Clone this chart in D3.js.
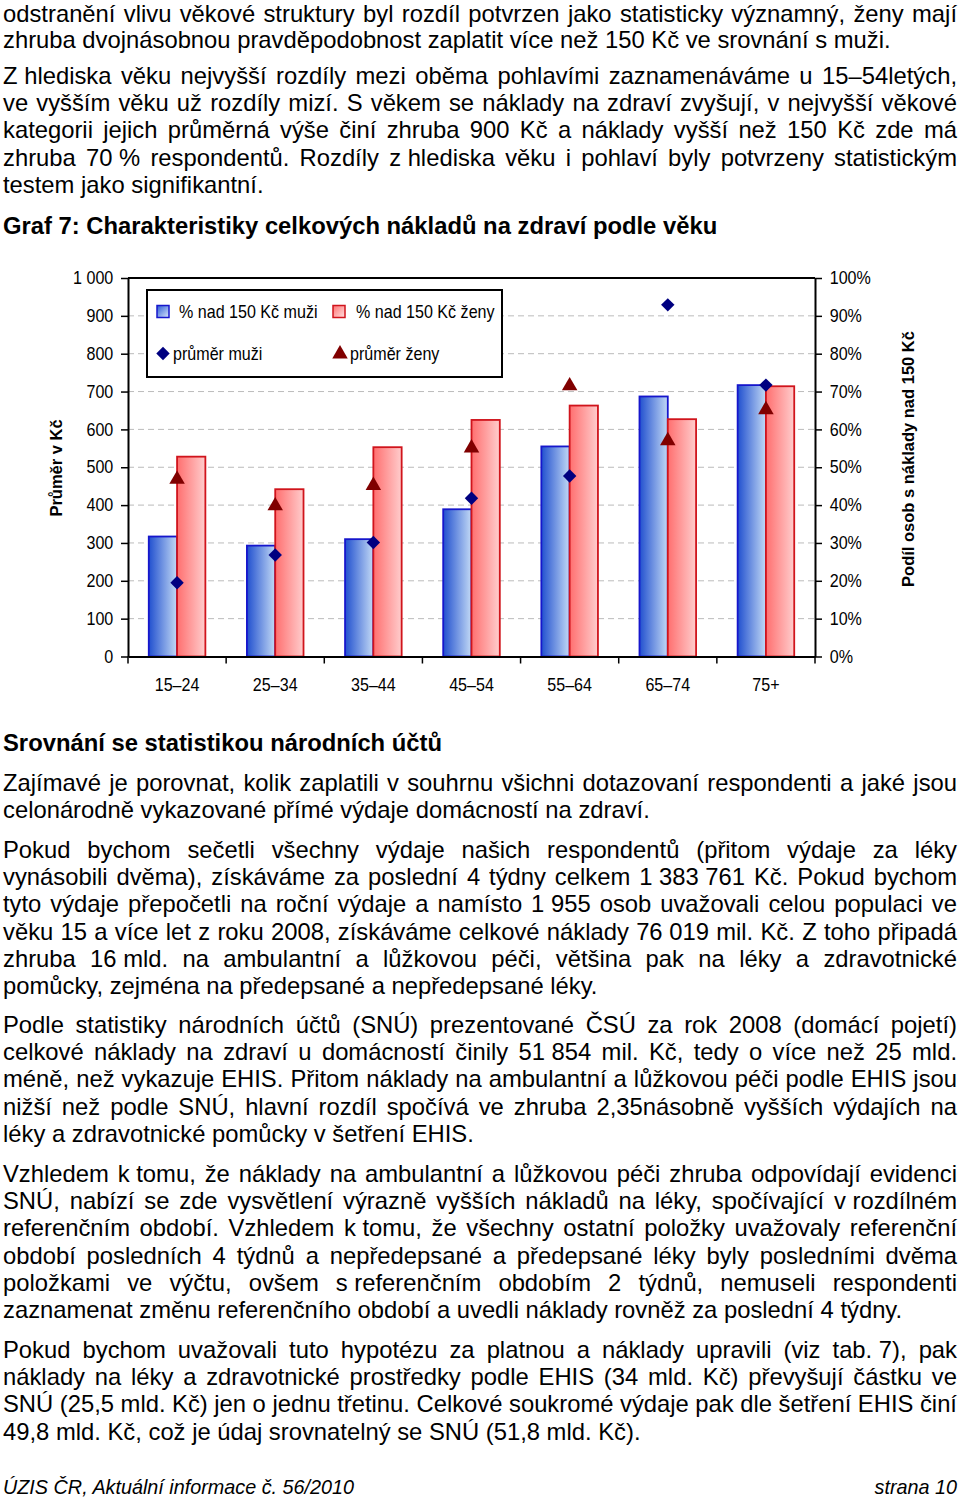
<!DOCTYPE html>
<html><head><meta charset="utf-8">
<script src="https://cdn.jsdelivr.net/npm/d3@7"></script>
<style>
html,body{margin:0;padding:0;background:#fff;}
svg{display:block;}
text{font-family:'Liberation Sans',Arial,Helvetica,sans-serif;fill:#000;}
.body{font-size:23.8px;}
.bold{font-size:23.8px;font-weight:bold;}
.foot{font-size:19.8px;font-style:italic;}
.ch{font-size:17.5px;}
.axt{font-size:16.5px;font-weight:bold;}
</style></head><body>
<svg id="page" width="960" height="1501"></svg>
<script>
// ---------- chart data ----------
const ageGroups = ["15–24","25–34","35–44","45–54","55–64","65–74","75+"];
const pctMen   = [31.7, 29.3, 31.0, 38.9, 55.5, 68.7, 71.7];   // % nad 150 Kč muži
const pctWomen = [52.8, 44.2, 55.3, 62.5, 66.3, 62.7, 71.4];   // % nad 150 Kč ženy
const avgMen   = [195, 268, 301, 418, 477, 929, 717];          // průměr muži (Kč)
const avgWomen = [468, 398, 452, 551, 715, 570, 652];          // průměr ženy (Kč)
const leftTicks  = [0,100,200,300,400,500,600,700,800,900,1000];
const rightTicks = [0,10,20,30,40,50,60,70,80,90,100];
const seriesNames = ["% nad 150 Kč muži","% nad 150 Kč ženy","průměr muži","průměr ženy"];
const chartTitle = "Graf 7: Charakteristiky celkových nákladů na zdraví podle věku";
const leftAxisTitle = "Průměr v Kč";
const rightAxisTitle = "Podíl osob s náklady nad 150 Kč";

// ---------- page text ----------
const NB = "\u00a0";
const para1 = [
 "odstranění vlivu věkové struktury byl rozdíl potvrzen jako statisticky významný, ženy mají",
 "zhruba dvojnásobnou pravděpodobnost zaplatit více než 150 Kč ve srovnání s"+NB+"muži."];
const para2 = [
 "Z"+NB+"hlediska věku nejvyšší rozdíly mezi oběma pohlavími zaznamenáváme u 15–54letých,",
 "ve vyšším věku už rozdíly mizí. S věkem se náklady na zdraví zvyšují, v nejvyšší věkové",
 "kategorii jejich průměrná výše činí zhruba 900 Kč a náklady vyšší než 150 Kč zde má",
 "zhruba 70"+NB+"% respondentů. Rozdíly z"+NB+"hlediska věku i pohlaví byly potvrzeny statistickým",
 "testem jako signifikantní."];
const heading2 = "Srovnání se statistikou národních účtů";
const para3 = [
 "Zajímavé je porovnat, kolik zaplatili v souhrnu všichni dotazovaní respondenti a jaké jsou",
 "celonárodně vykazované přímé výdaje domácností na zdraví."];
const para4 = [
 "Pokud bychom sečetli všechny výdaje našich respondentů (přitom výdaje za léky",
 "vynásobili dvěma), získáváme za poslední 4 týdny celkem 1"+NB+"383"+NB+"761 Kč. Pokud bychom",
 "tyto výdaje přepočetli na roční výdaje a namísto 1"+NB+"955 osob uvažovali celou populaci ve",
 "věku 15 a více let z roku 2008, získáváme celkové náklady 76"+NB+"019 mil. Kč. Z toho připadá",
 "zhruba 16"+NB+"mld. na ambulantní a lůžkovou péči, většina pak na léky a zdravotnické",
 "pomůcky, zejména na předepsané a nepředepsané léky."];
const para5 = [
 "Podle statistiky národních účtů (SNÚ) prezentované ČSÚ za rok 2008 (domácí pojetí)",
 "celkové náklady na zdraví u domácností činily 51"+NB+"854 mil. Kč, tedy o více než 25 mld.",
 "méně, než vykazuje EHIS. Přitom náklady na ambulantní a lůžkovou péči podle EHIS jsou",
 "nižší než podle SNÚ, hlavní rozdíl spočívá ve zhruba 2,35násobně vyšších výdajích na",
 "léky a zdravotnické pomůcky v šetření EHIS."];
const para6 = [
 "Vzhledem k"+NB+"tomu, že náklady na ambulantní a lůžkovou péči zhruba odpovídají evidenci",
 "SNÚ, nabízí se zde vysvětlení výrazně vyšších nákladů na léky, spočívající v"+NB+"rozdílném",
 "referenčním období. Vzhledem k"+NB+"tomu, že všechny ostatní položky uvažovaly referenční",
 "období posledních 4 týdnů a nepředepsané a předepsané léky byly posledními dvěma",
 "položkami ve výčtu, ovšem s"+NB+"referenčním obdobím 2 týdnů, nemuseli respondenti",
 "zaznamenat změnu referenčního období a uvedli náklady rovněž za poslední 4 týdny."];
const para7 = [
 "Pokud bychom uvažovali tuto hypotézu za platnou a náklady upravili (viz tab."+NB+"7), pak",
 "náklady na léky a zdravotnické prostředky podle EHIS (34 mld. Kč) převyšují částku ve",
 "SNÚ (25,5 mld. Kč) jen o jednu třetinu. Celkové soukromé výdaje pak dle šetření EHIS činí",
 "49,8 mld. Kč, což je údaj srovnatelný se SNÚ (51,8 mld. Kč)."];
const footerLeft = "ÚZIS ČR, Aktuální informace č. 56/2010";
const footerRight = "strana 10";

// ---------- layout ----------
const svg = d3.select("#page");
const TX = 3, TW = 954, LH = 27.2;

function drawLine(str, y, justify, cls) {
  const t = svg.append("text").attr("class", cls).attr("y", y);
  if (!justify) { t.attr("x", TX).text(str); return; }
  const words = str.split(" ");
  const spans = words.map(w => t.append("tspan").text(w));
  const widths = spans.map(s => s.node().getComputedTextLength());
  const gap = (TW - d3.sum(widths)) / (words.length - 1);
  let cx = TX;
  spans.forEach((s, i) => { s.attr("x", cx); cx += widths[i] + gap; });
}
function drawPara(lines, y0, step) {
  const h = step || LH;
  lines.forEach((l, i) => drawLine(l, y0 + i * h, i < lines.length - 1, "body"));
}
drawPara(para1, 22, 25.5);
drawPara(para2, 84);
drawLine(chartTitle, 234, false, "bold");
drawLine(heading2, 751, false, "bold");
drawPara(para3, 791);
drawPara(para4, 858);
drawPara(para5, 1033);
drawPara(para6, 1182);
drawPara(para7, 1358);
svg.append("text").attr("class","foot").attr("x",TX).attr("y",1494).text(footerLeft);
svg.append("text").attr("class","foot").attr("x",957).attr("y",1494).attr("text-anchor","end").text(footerRight);

// ---------- chart ----------
const M = {left:128, right:815, top:278, bottom:656.5};
const SX = 0.92; // horizontal condensing of chart labels
const x = d3.scaleBand().domain(ageGroups).range([M.left, M.right]).padding(0);
const x1 = d3.scaleBand().domain(["m","w"]).range([0, x.bandwidth()]).paddingInner(0).paddingOuter(0.734);
const yL = d3.scaleLinear().domain([0,1000]).range([M.bottom, M.top]);
const yR = d3.scaleLinear().domain([0,100]).range([M.bottom, M.top]);

const defs = svg.append("defs");
function grad(id, c0, c1) {
  const g = defs.append("linearGradient").attr("id", id).attr("x1","0").attr("x2","1").attr("y1","0").attr("y2","0");
  g.append("stop").attr("offset","0").attr("stop-color",c0);
  g.append("stop").attr("offset","1").attr("stop-color",c1);
}
grad("gBlue", "#2150cf", "#c2d9f5");
grad("gRed", "#ff6f6f", "#ffcdcd");
const gl = defs.append("linearGradient").attr("id","gBlueL").attr("x1","0").attr("y1","0").attr("x2","1").attr("y2","1");
gl.append("stop").attr("offset","0").attr("stop-color","#2a5ad6");
gl.append("stop").attr("offset","1").attr("stop-color","#dbe8fa");
const glr = defs.append("linearGradient").attr("id","gRedL").attr("x1","0").attr("y1","0").attr("x2","1").attr("y2","1");
glr.append("stop").attr("offset","0").attr("stop-color","#ff7373");
glr.append("stop").attr("offset","1").attr("stop-color","#ffe0e0");

const C = svg.append("g");
// gridlines
C.append("g").selectAll("line").data(leftTicks.filter(d => d > 0 && d < 1000)).join("line")
  .attr("x1", M.left).attr("x2", M.right)
  .attr("y1", d => yL(d)).attr("y2", d => yL(d))
  .attr("stroke", "#bbbbbb").attr("stroke-width", 1).attr("stroke-dasharray", "6,4");

// bars
const bars = ageGroups.map((a, i) => ({a, m: pctMen[i], w: pctWomen[i]}));
const bg = C.append("g");
bg.selectAll("rect.m").data(bars).join("rect").attr("class","m")
  .attr("x", d => x(d.a) + x1("m")).attr("width", x1.bandwidth())
  .attr("y", d => yR(d.m)).attr("height", d => yR(0) - yR(d.m))
  .attr("fill", "url(#gBlue)").attr("stroke", "#1616cc").attr("stroke-width", 1.8);
bg.selectAll("rect.w").data(bars).join("rect").attr("class","w")
  .attr("x", d => x(d.a) + x1("w")).attr("width", x1.bandwidth())
  .attr("y", d => yR(d.w)).attr("height", d => yR(0) - yR(d.w))
  .attr("fill", "url(#gRed)").attr("stroke", "#d0141c").attr("stroke-width", 1.8);

// axes
const fmtL = d3.formatLocale({decimal:",", thousands:"\u00a0", grouping:[3], currency:["",""]}).format(",d");
function styleAxis(g) {
  g.attr("font-family", null).attr("font-size", null);
  g.select(".domain").attr("stroke", "#000").attr("stroke-width", 2);
  g.selectAll(".tick line").attr("stroke", "#000").attr("stroke-width", 1.5);
  g.selectAll(".tick text").attr("class", "ch").attr("fill", "#000")
    .attr("transform", `scale(${SX},1)`);
}
C.append("g").attr("transform", `translate(${M.left},0)`)
  .call(d3.axisLeft(yL).tickValues(leftTicks).tickFormat(fmtL).tickSize(7).tickSizeOuter(0).tickPadding(9))
  .call(styleAxis);
C.append("g").attr("transform", `translate(${M.right},0)`)
  .call(d3.axisRight(yR).tickValues(rightTicks).tickFormat(d => d + "%").tickSize(7).tickSizeOuter(0).tickPadding(9))
  .call(styleAxis);
C.append("g").attr("transform", `translate(0,${M.bottom})`)
  .call(d3.axisBottom(x).tickSize(0).tickPadding(22))
  .call(styleAxis);
// category boundary ticks
C.append("g").selectAll("line").data(ageGroups.map(a => x(a)).concat([M.right])).join("line")
  .attr("x1", d => d).attr("x2", d => d).attr("y1", M.bottom).attr("y2", M.bottom + 7)
  .attr("stroke", "#000").attr("stroke-width", 1.5);
// top border
C.append("line").attr("x1", M.left).attr("x2", M.right).attr("y1", M.top).attr("y2", M.top)
  .attr("stroke", "#000").attr("stroke-width", 2);

// markers
const pts = ageGroups.map((a, i) => ({a, m: avgMen[i], w: avgWomen[i]}));
const diamond = d3.symbol().type(d3.symbolSquare).size(90);
const tri = d3.symbol().type(d3.symbolTriangle).size(104);
C.append("g").selectAll("path.t").data(pts).join("path").attr("class","t")
  .attr("d", tri).attr("fill", "#800000")
  .attr("transform", d => `translate(${x(d.a) + x.bandwidth()/2},${yL(d.w)})`);
C.append("g").selectAll("path.d").data(pts).join("path").attr("class","d")
  .attr("d", diamond).attr("fill", "#000080")
  .attr("transform", d => `translate(${x(d.a) + x.bandwidth()/2},${yL(d.m)}) rotate(45)`);

// axis titles
svg.append("text").attr("class","axt").attr("text-anchor","middle")
  .attr("transform","translate(62,468) rotate(-90)").text(leftAxisTitle);
svg.append("text").attr("class","axt").attr("text-anchor","middle")
  .attr("transform","translate(914,459) rotate(-90)").text(rightAxisTitle);

// legend
const L = svg.append("g");
function ltext(xp, yp, s) {
  L.append("text").attr("class","ch").attr("transform", `translate(${xp},${yp}) scale(${SX},1)`).text(s);
}
L.append("rect").attr("x",147).attr("y",290).attr("width",355).attr("height",87)
  .attr("fill","#fff").attr("stroke","#000").attr("stroke-width",2);
L.append("rect").attr("x",157).attr("y",305.5).attr("width",12).attr("height",12)
  .attr("fill","url(#gBlueL)").attr("stroke","#1616cc").attr("stroke-width",1.5);
ltext(179, 318, seriesNames[0]);
L.append("rect").attr("x",333).attr("y",305.5).attr("width",12).attr("height",12)
  .attr("fill","url(#gRedL)").attr("stroke","#d0141c").attr("stroke-width",1.5);
ltext(356, 318, seriesNames[1]);
L.append("path").attr("d", diamond).attr("fill","#000080").attr("transform","translate(163,353.5) rotate(45)");
ltext(173, 360, seriesNames[2]);
L.append("path").attr("d", tri).attr("fill","#800000").attr("transform","translate(340,354)");
ltext(350, 360, seriesNames[3]);
</script>
</body></html>
